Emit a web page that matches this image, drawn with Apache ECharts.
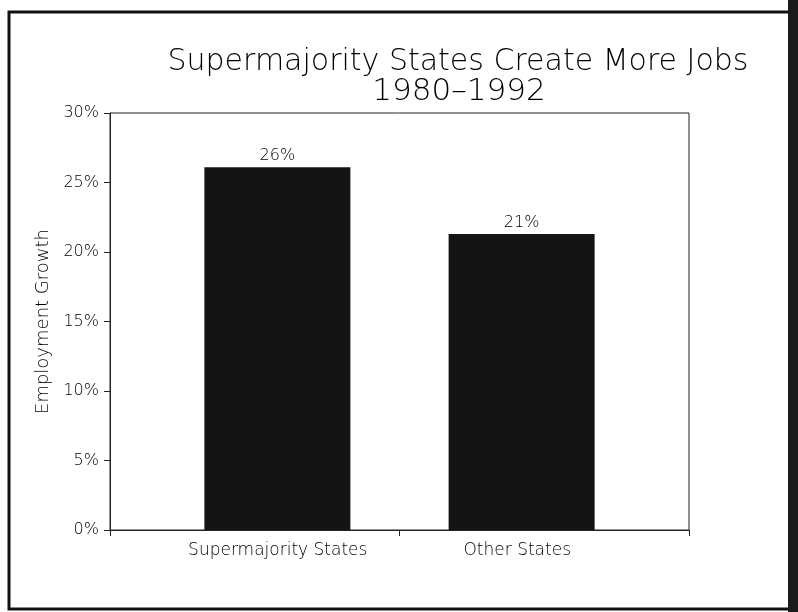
<!DOCTYPE html>
<html>
<head>
<meta charset="utf-8">
<script src="https://cdn.jsdelivr.net/npm/echarts@6/dist/echarts.min.js"></script>
<style>
  html, body { margin: 0; padding: 0; background: #fff; }
  #chart { width: 798px; height: 612px; }
</style>
</head>
<body>
<div id="chart"></div>
<script>
const titleLines = ['Supermajority States Create More Jobs', '1980\u20131992'];
const categories = ['Supermajority States', 'Other States'];
const growth = [26.1, 21.3];
const yTicks = [0, 5, 10, 15, 20, 25, 30];
const yName = 'Employment Growth';

const FONT = 'DejaVu Sans';
const INK = '#000';

const chart = echarts.init(document.getElementById('chart'));

// bars sit toward the middle divider, so each one goes in the slot nearer the centre
const leftSlot = growth.map((v, i) => (i === 1 ? v : '-'));
const rightSlot = growth.map((v, i) => (i === 0 ? v : '-'));

const barLabel = {
  show: true,
  position: 'top',
  distance: 3,
  color: INK,
  fontFamily: FONT,
  fontWeight: 200,
  fontSize: 16,
  formatter: p => Math.round(p.value) + '%'
};

chart.setOption({
  animation: false,
  backgroundColor: '#fff',
  title: [
    {
      text: titleLines[0],
      left: 453, top: 42, textAlign: 'center',
      textStyle: { fontFamily: FONT, fontWeight: 200, fontSize: 30, color: INK }
    },
    {
      text: titleLines[1],
      left: 454, top: 71, textAlign: 'center',
      textStyle: { fontFamily: FONT, fontWeight: 200, fontSize: 31, color: INK }
    }
  ],
  grid: {
    left: 110, right: 109, top: 113, bottom: 82,
    show: true, borderColor: '#222', borderWidth: 1
  },
  xAxis: {
    type: 'category',
    data: categories,
    boundaryGap: true,
    axisLine: { lineStyle: { color: '#222', width: 1 } },
    axisTick: { show: true, length: 6, lineStyle: { color: '#222' } },
    axisLabel: {
      margin: 12,
      fontFamily: FONT,
      fontSize: 17,
      color: INK,
      formatter: (v, i) => (i === 0 ? '{a|' + v + '}' : '{b|' + v + '}'),
      rich: {
        a: { fontFamily: FONT, fontWeight: 200, fontSize: 17, color: INK, padding: [0, 0, 0, 46] },
        b: { fontFamily: FONT, fontWeight: 200, fontSize: 17, color: INK, padding: [0, 54, 0, 0] }
      }
    }
  },
  yAxis: {
    type: 'value',
    min: yTicks[0],
    max: yTicks[yTicks.length - 1],
    interval: yTicks[1] - yTicks[0],
    name: yName,
    nameLocation: 'middle',
    nameGap: 53,
    nameTextStyle: { fontFamily: FONT, fontWeight: 200, fontSize: 18, color: INK },
    axisLine: { show: true, lineStyle: { color: '#222', width: 1 } },
    axisTick: { show: true, length: 6, lineStyle: { color: '#222' } },
    splitLine: { show: false },
    axisLabel: {
      margin: 11,
      fontFamily: FONT,
      fontWeight: 200,
      fontSize: 16,
      color: INK,
      formatter: v => v + '%'
    }
  },
  series: [
    {
      type: 'bar',
      data: leftSlot,
      barWidth: 146,
      barGap: '-69%',
      itemStyle: { color: '#141414' },
      label: barLabel
    },
    {
      type: 'bar',
      data: rightSlot,
      barWidth: 146,
      barGap: '-69%',
      itemStyle: { color: '#141414' },
      label: barLabel
    }
  ],
  graphic: [
    {
      type: 'rect',
      shape: { x: 9, y: 12, width: 781, height: 597 },
      style: { fill: null, stroke: '#111', lineWidth: 3 },
      silent: true
    },
    {
      type: 'rect',
      shape: { x: 788, y: 0, width: 10, height: 612 },
      style: { fill: '#1a1a1a' },
      silent: true
    }
  ]
});
</script>
</body>
</html>
